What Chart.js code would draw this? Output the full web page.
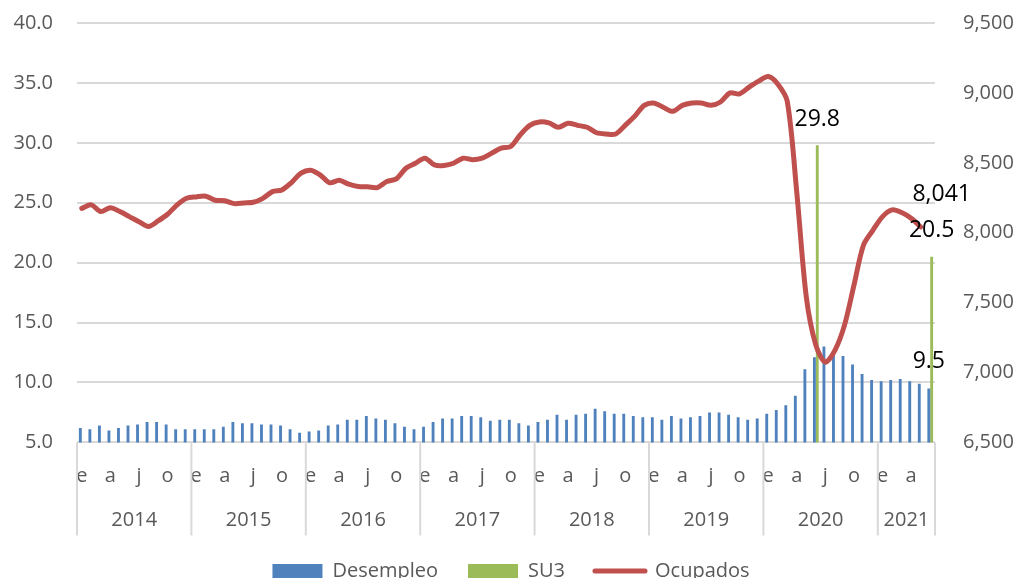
<!DOCTYPE html>
<html>
<head>
<meta charset="utf-8">
<script src="https://cdn.jsdelivr.net/npm/chart.js@4.4.1/dist/chart.umd.min.js"></script>
<style>
  body { margin: 0; background: #fff; }
  #wrap { width: 1022px; height: 578px; }
</style>
</head>
<body>
<div id="wrap"><canvas id="mycanvas" width="1022" height="578"></canvas></div>
<script>
// años y meses del eje
var anios = [2014, 2015, 2016, 2017, 2018, 2019, 2020, 2021];
var meses = ['e', 'f', 'm', 'a', 'm', 'j', 'j', 'a', 's', 'o', 'n', 'd'];
var mesesUltimoAnio = 6; // 2021: enero a junio

// Desempleo (%), eje izquierdo
var desempleo = [
  6.2, 6.1, 6.4, 6.0, 6.2, 6.4, 6.5, 6.7, 6.7, 6.5, 6.1, 6.1,
  6.1, 6.1, 6.1, 6.3, 6.7, 6.6, 6.6, 6.5, 6.5, 6.4, 6.1, 5.8,
  5.9, 6.0, 6.4, 6.5, 6.9, 6.9, 7.2, 7.0, 6.9, 6.6, 6.3, 6.1,
  6.3, 6.7, 7.0, 7.0, 7.2, 7.2, 7.1, 6.8, 6.9, 6.9, 6.6, 6.4,
  6.7, 6.9, 7.3, 6.9, 7.3, 7.4, 7.8, 7.6, 7.4, 7.4, 7.2, 7.1,
  7.1, 6.9, 7.2, 7.0, 7.1, 7.2, 7.5, 7.5, 7.3, 7.1, 6.9, 7.0,
  7.4, 7.7, 8.1, 8.9, 11.1, 12.1, 13.0, 12.5, 12.2, 11.5, 10.7, 10.2,
  10.1, 10.2, 10.3, 10.1, 9.9, 9.5
];

// SU3 (%), solo dos observaciones: jun-2020 y jun-2021
var su3 = [
  null, null, null, null, null, null, null, null, null, null, null, null,
  null, null, null, null, null, null, null, null, null, null, null, null,
  null, null, null, null, null, null, null, null, null, null, null, null,
  null, null, null, null, null, null, null, null, null, null, null, null,
  null, null, null, null, null, null, null, null, null, null, null, null,
  null, null, null, null, null, null, null, null, null, null, null, null,
  null, null, null, null, null, 29.8, null, null, null, null, null, null,
  null, null, null, null, null, 20.5
];

// Ocupados (miles), eje derecho
var ocupados = [
  8174, 8199, 8151, 8179, 8151, 8115, 8079, 8045, 8084, 8132, 8199, 8246,
  8256, 8261, 8232, 8228, 8208, 8213, 8218, 8246, 8294, 8306, 8359, 8426,
  8447, 8414, 8357, 8375, 8347, 8330, 8328, 8323, 8366, 8385, 8461, 8497,
  8533, 8485, 8481, 8497, 8533, 8522, 8533, 8569, 8605, 8617, 8701, 8768,
  8792, 8785, 8754, 8783, 8768, 8754, 8715, 8706, 8706, 8768, 8833, 8911,
  8928, 8897, 8868, 8911, 8928, 8928, 8911, 8935, 9000, 8993, 9041, 9084,
  9117, 9064, 8940, 8290, 7540, 7196, 7074, 7158, 7337, 7625, 7912, 8019,
  8115, 8163, 8144, 8103, 8041, null
];

var ticksIzq = [5, 40, 5];      // min, max, paso
var ticksDer = [6500, 9500, 500];

var etiquetas = [];
for (var a = 0; a < anios.length; a++) {
  var n = (a === anios.length - 1) ? mesesUltimoAnio : 12;
  for (var m = 0; m < n; m++) etiquetas.push(anios[a] + '-' + meses[m]);
}

var gris = '#595959';
var grid = '#d9d9d9';
Chart.defaults.font.family = "'Open Sans', sans-serif";
Chart.defaults.color = gris;

// años y separadores bajo el eje x
var ejeAnios = {
  id: 'ejeAnios',
  afterDraw: function(chart) {
    var x = chart.scales.x, ctx = chart.ctx, area = chart.chartArea;
    var half = (x.getPixelForValue(1) - x.getPixelForValue(0)) / 2;
    var bordes = [];
    var idx = 0;
    for (var a = 0; a < anios.length; a++) {
      bordes.push(x.getPixelForValue(idx) - half);
      idx += (a === anios.length - 1) ? mesesUltimoAnio : 12;
    }
    bordes.push(x.getPixelForValue(idx - 1) + half);
    ctx.save();
    ctx.strokeStyle = grid;
    ctx.lineWidth = 2;
    for (var i = 0; i < bordes.length; i++) {
      ctx.beginPath();
      ctx.moveTo(bordes[i], area.bottom);
      ctx.lineTo(bordes[i], area.bottom + 93);
      ctx.stroke();
    }
    ctx.fillStyle = gris;
    ctx.font = "20px 'Open Sans'";
    ctx.textAlign = 'center';
    ctx.textBaseline = 'middle';
    for (var j = 0; j < anios.length; j++) {
      ctx.fillText(String(anios[j]), (bordes[j] + bordes[j + 1]) / 2, area.bottom + 78);
    }
    ctx.restore();
  }
};

// etiquetas de datos
var etiquetasDatos = {
  id: 'etiquetasDatos',
  afterDatasetsDraw: function(chart) {
    var ctx = chart.ctx;
    ctx.save();
    ctx.fillStyle = '#000';
    ctx.font = "23px 'Open Sans'";
    ctx.textAlign = 'center';
    ctx.textBaseline = 'middle';
    var ultimo = etiquetas.length - 1;
    var b0 = chart.getDatasetMeta(0).data[ultimo];
    ctx.fillText(desempleo[ultimo].toFixed(1), b0.x, b0.y - 27);
    var s = chart.getDatasetMeta(1).data;
    for (var i = 0; i < su3.length; i++) {
      if (su3[i] !== null) ctx.fillText(su3[i].toFixed(1), s[i].x, s[i].y - 26);
    }
    var k = ocupados.length - 1;
    while (ocupados[k] === null) k--;
    var p = chart.getDatasetMeta(2).data[k];
    ctx.fillText(ocupados[k].toLocaleString('en-US'), p.x + 21, p.y - 33);
    ctx.restore();
  }
};

// quitar el relleno vertical que Chart.js añade por el padding de los ticks
function ajusteEjeY(ancho) {
  return function(scale) {
    scale.width = ancho;
    scale.paddingTop = 0;
    scale.paddingBottom = 0;
  };
}

var chartdata = {
  labels: etiquetas,
  datasets: [
    {
      type: 'bar',
      label: 'Desempleo',
      data: desempleo,
      yAxisID: 'yIzq',
      backgroundColor: '#4f81bd',
      categoryPercentage: 0.6,
      barPercentage: 1.0,
      order: 1
    },
    {
      type: 'bar',
      label: 'SU3',
      data: su3,
      yAxisID: 'yIzq',
      backgroundColor: '#9bbb59',
      categoryPercentage: 0.6,
      barPercentage: 1.0,
      order: 1
    },
    {
      type: 'line',
      label: 'Ocupados',
      data: ocupados,
      yAxisID: 'yDer',
      borderColor: '#c0504d',
      backgroundColor: '#c0504d',
      borderWidth: 5,
      borderCapStyle: 'round',
      borderJoinStyle: 'round',
      pointRadius: 0,
      tension: 0.3,
      order: 0
    }
  ]
};

var ctx = document.getElementById('mycanvas');
var myChart = new Chart(ctx, {
  data: chartdata,
  plugins: [ejeAnios, etiquetasDatos],
  options: {
    responsive: false,
    animation: false,
    devicePixelRatio: 1,
    layout: { padding: { top: 23, left: 0, right: 0, bottom: -13 } },
    plugins: {
      tooltip: { enabled: false },
      legend: {
        position: 'bottom',
        labels: {
          usePointStyle: true,
          pointStyleWidth: 50,
          boxHeight: 14,
          padding: 30,
          color: gris,
          font: { size: 20 },
          sort: function(a, b) { return a.datasetIndex - b.datasetIndex; },
          generateLabels: function(chart) {
            var items = Chart.defaults.plugins.legend.labels.generateLabels(chart);
            items.forEach(function(it) {
              if (it.datasetIndex === 2) {
                it.pointStyle = 'line';
                it.lineWidth = 5;
                it.strokeStyle = '#c0504d';
                it.lineCap = 'round';
              } else {
                it.pointStyle = 'rect';
                it.lineWidth = 0;
              }
            });
            return items;
          }
        }
      }
    },
    scales: {
      x: {
        type: 'category',
        offset: true,
        grid: { display: false, drawTicks: false },
        border: { display: false },
        ticks: {
          autoSkip: false,
          maxRotation: 0,
          minRotation: 0,
          padding: 22,
          color: gris,
          font: { size: 20 },
          callback: function(val, i) {
            return (i % 3 === 0) ? meses[i % 12] : '';
          }
        },
        afterFit: function(scale) { scale.height = 88.6; }
      },
      yIzq: {
        type: 'linear',
        position: 'left',
        min: ticksIzq[0],
        max: ticksIzq[1],
        grid: { color: grid, lineWidth: 2, drawTicks: false },
        border: { display: false },
        ticks: {
          stepSize: ticksIzq[2],
          padding: 24,
          color: gris,
          font: { size: 20 },
          callback: function(v) { return v.toFixed(1); }
        },
        afterFit: ajusteEjeY(77)
      },
      yDer: {
        type: 'linear',
        position: 'right',
        min: ticksDer[0],
        max: ticksDer[1],
        grid: { display: false, drawTicks: false },
        border: { display: false },
        ticks: {
          stepSize: ticksDer[2],
          padding: 28,
          color: gris,
          font: { size: 20 },
          callback: function(v) { return v.toLocaleString('en-US'); }
        },
        afterFit: ajusteEjeY(87)
      }
    }
  }
});
</script>
</body>
</html>
